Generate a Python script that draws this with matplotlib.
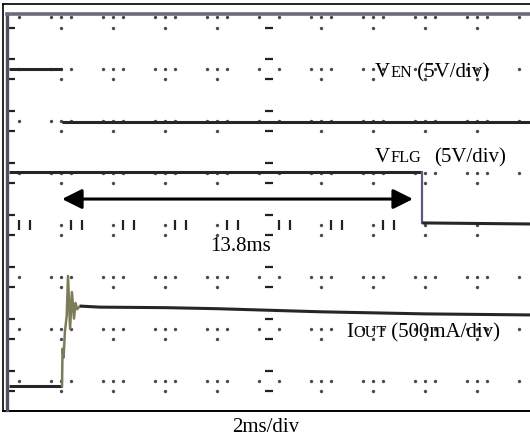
import matplotlib
matplotlib.use('Agg')
import matplotlib.pyplot as plt
from matplotlib.lines import Line2D

W, H = 530, 439
fig = plt.figure(figsize=(W / 100, H / 100), dpi=100)
fig.patch.set_facecolor('white')

# ---------------- data (time in ms, amplitude in scope divisions) ----------------
ven_pre_t = [0.0, 2.04]
ven_pre_v = [7.0, 7.0]
ven_t = [2.04, 20.04]
ven_v = [5.98, 5.98]

vflg_t = [0.0, 15.9, 15.9, 20.04]
vflg_v = [5.02, 5.02, 4.04, 4.02]

iout_low_t = [0.0, 2.04]
iout_low_v = [0.9, 0.9]
iout_ring_t = [2.04, 2.06, 2.10, 2.15, 2.22, 2.27, 2.35, 2.42, 2.50, 2.56, 2.62, 2.73]
iout_ring_v = [0.9, 1.62, 1.45, 1.94, 2.25, 3.02, 2.00, 2.71, 2.20, 2.50, 2.38, 2.44]
iout_t = [2.73, 3.5, 6.0, 8.0, 10.0, 12.0, 14.0, 16.0, 18.0, 20.04]
iout_v = [2.44, 2.42, 2.41, 2.39, 2.36, 2.33, 2.31, 2.29, 2.28, 2.27]

arrow_start, arrow_end, arrow_level = 2.04, 15.54, 4.5

ms_per_div = 2.0
n_cols = 10
n_rows = 8

# ---------------- axes (graticule area) ----------------
ax = fig.add_axes([8 / W, 1 - 410 / H, (530 - 8) / W, (410 - 15) / H])
ax.set_xlim(-0.038, 20.04)
ax.set_ylim(0.46, 8.06)
ax.axis('off')

dot_kw = dict(linestyle='none', marker='o', markersize=1.4, color='#4a4a4a', zorder=1)
# dotted grid
for c in range(1, n_cols):
    if c == 5:
        continue
    ys = []
    for r in range(1, n_rows + 1):
        ys += [r - 0.2, r]
    ax.plot([c * ms_per_div] * len(ys), ys, **dot_kw)
for r in range(1, n_rows + 1):
    if r == 4:
        continue
    xs = []
    for c in range(0, n_cols + 1):
        xs += [(c - 0.2) * ms_per_div, (c + 0.2) * ms_per_div]
    ax.plot(xs, [r] * len(xs), **dot_kw)

# center vertical line: short horizontal dashes
cy = []
for r in range(1, n_rows + 1):
    cy += [r - 0.2, r + 0.2]
ax.plot([5 * ms_per_div] * len(cy), cy, linestyle='none', marker='_', markersize=6,
        markeredgewidth=1.6, color='#222222', zorder=1)
# center horizontal line: short vertical ticks
cx = []
for c in range(0, n_cols + 1):
    if c < 8:
        cx += [(c + 0.2) * ms_per_div, (c + 0.4) * ms_per_div]
ax.plot(cx, [4] * len(cx), linestyle='none', marker='|', markersize=7,
        markeredgewidth=1.6, color='#222222', zorder=1)
# left border ticks ("E" shapes)
ly = []
for r in range(1, n_rows + 1):
    ly += [r - 0.2, r + 0.2]
ax.plot([0.08] * len(ly), ly, linestyle='none', marker='_', markersize=6,
        markeredgewidth=1.6, color='#222222', zorder=1)

# ---------------- traces ----------------
trace = dict(color='#262626', lw=2.2, solid_capstyle='butt', zorder=3)
ax.plot(ven_pre_t, ven_pre_v, **trace)
ax.plot(ven_t, ven_v, **trace)
ax.plot(vflg_t[:2], vflg_v[:2], **trace)
ax.plot(vflg_t[1:3], vflg_v[1:3], color='#5a5a86', lw=1.6, zorder=3)
ax.plot(vflg_t[2:], vflg_v[2:], **trace)
ax.plot(iout_low_t, iout_low_v, **trace)
ax.plot(iout_ring_t, iout_ring_v, color='#7c7c58', lw=1.8, zorder=3)
ax.plot(iout_t, iout_v, **trace)

# double arrow
ax.annotate('', xy=(arrow_end, arrow_level), xytext=(arrow_start, arrow_level),
            arrowprops=dict(arrowstyle='<|-|>,head_length=0.6,head_width=0.3',
                            lw=2.2, color='black', mutation_scale=20,
                            shrinkA=0, shrinkB=0), zorder=4)

# ---------------- borders ----------------
def fline(x0, y0, x1, y1, **kw):
    fig.add_artist(Line2D([x0 / W, x1 / W], [1 - y0 / H, 1 - y1 / H],
                          transform=fig.transFigure, **kw))

fline(2.5, 5, 530, 5, color='black', lw=1.2)
fline(2.5, 5, 2.5, 411.5, color='black', lw=1.2)
fline(2.5, 411.5, 530, 411.5, color='black', lw=1.4)
fline(7, 15, 7, 411, color='#4e5064', lw=2.4)
fline(7, 15, 530, 15, color='#6a6c7c', lw=2.6)

# ---------------- labels ----------------
fig.canvas.draw()
renderer = fig.canvas.get_renderer()
FAM = ['Liberation Serif', 'DejaVu Serif']
BIG, SMALL = 15, 11.7


def seq_text(x, y, parts):
    cur = x
    for s, size in parts:
        t = fig.text(cur / W, 1 - y / H, s, fontsize=size, family=FAM,
                     va='baseline', ha='left', color='black', zorder=5)
        bb = t.get_window_extent(renderer=renderer)
        cur = bb.x1


seq_text(375, 77, [('V', BIG), ('EN', SMALL), (' (5V/div)', BIG)])
seq_text(375, 162, [('V', BIG), ('FLG', SMALL)])
seq_text(434, 162, [('(5V/div)', BIG)])
seq_text(346, 337, [('I', BIG), ('OUT', SMALL), (' (500mA/div)', BIG)])
seq_text(210, 251, [('13.8ms', BIG)])
seq_text(232, 432, [('2ms/div', BIG)])

fig.savefig('out.png', dpi=100, facecolor='white')
